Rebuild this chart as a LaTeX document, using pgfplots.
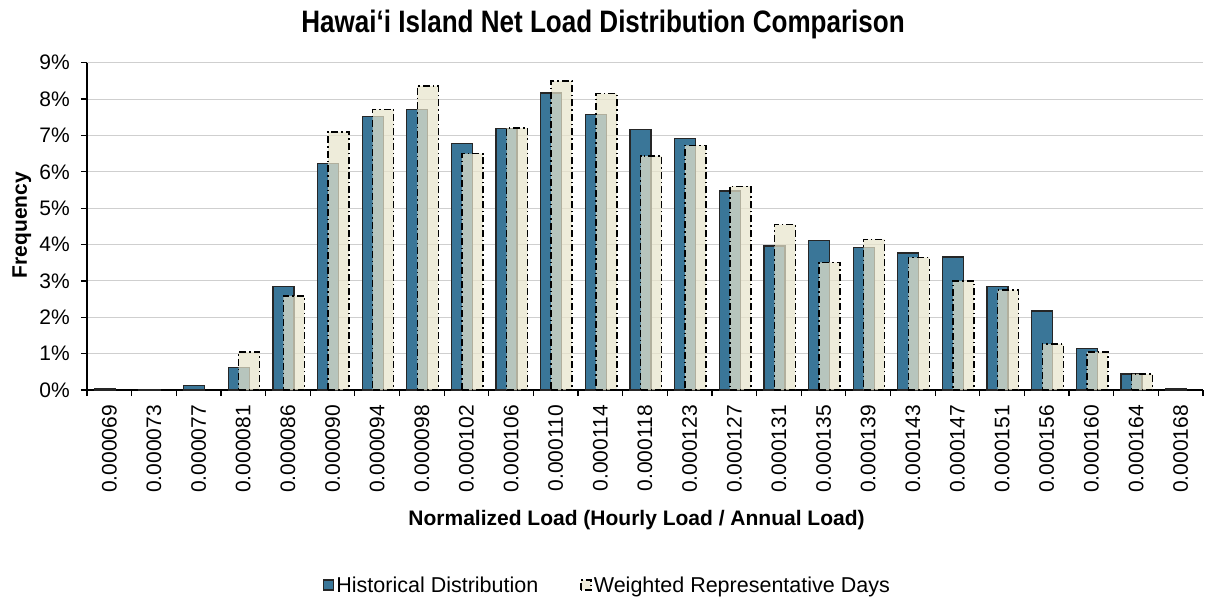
\documentclass[border=0pt]{standalone}
\usepackage{fontspec}
\setmainfont{Liberation Sans}
\newfontfamily\titlefont{Liberation Sans}[FakeStretch=0.84]
\usepackage{pgfplots}
\pgfplotsset{compat=1.18}

\definecolor{histblue}{RGB}{58,118,152}
\definecolor{weightbeige}{RGB}{232,228,204}

\pgfplotsset{
  sqlegend/.style={legend image code/.code={\draw[##1] (0pt,-5pt) rectangle (10pt,5pt);}},
}

\begin{document}
\begin{tikzpicture}
\begin{axis}[
  name=ax,
  scale only axis, width=1116pt, height=327.3pt,
  xmin=-0.5, xmax=24.5, ymin=0, ymax=9,
  axis lines*=left,
  axis line style={-, line width=1.3pt, black},
  tick align=outside, major tick length=6pt,
  tick style={black, line width=1.2pt},
  xtick={-0.5,0.5,...,24.5},
  xticklabels={0.000069,0.000073,0.000077,0.000081,0.000086,0.000090,0.000094,0.000098,0.000102,0.000106,0.000110,0.000114,0.000118,0.000123,0.000127,0.000131,0.000135,0.000139,0.000143,0.000147,0.000151,0.000156,0.000160,0.000164,0.000168,{}},
  xticklabel style={xshift=22.32pt, yshift=-9pt, rotate=90, anchor=east, inner sep=0pt},
  ytick={0,...,9},
  yticklabels={0\%,1\%,2\%,3\%,4\%,5\%,6\%,7\%,8\%,9\%},
  yticklabel style={inner sep=0pt, xshift=-11pt},
  ymajorgrids,
  major grid style={draw=black!19, line width=1pt},
  tick label style={font=\fontsize{21}{25}\selectfont},
  /pgf/number format/assume math mode=true,
  title={Hawai‘i Island Net Load Distribution Comparison},
  title style={at={(axis description cs:0.4624,1.073)}, anchor=base,
    font=\titlefont\bfseries\fontsize{31}{36}\selectfont},
  xlabel={Normalized Load (Hourly Load / Annual Load)},
  xlabel style={at={(axis description cs:0.4924,-0.4125)}, anchor=base,
    font=\bfseries\fontsize{21}{25}\selectfont},
  ylabel={Frequency},
  ylabel style={at={(axis description cs:-0.0538,0.504)}, anchor=base,
    font=\bfseries\fontsize{21}{25}\selectfont},
  legend columns=2,
  legend style={at={(axis description cs:0.4664,-0.596)}, anchor=center,
    draw=none, inner sep=0pt, font=\fontsize{21.5}{25}\selectfont,
    nodes={inner xsep=2pt, inner ysep=0pt},
    /tikz/every even column/.append style={column sep=40pt}},
]

% historical distribution
\addplot[ybar, bar width=21pt, bar shift=-4.5pt, fill=histblue,
  draw=black!85, line width=1.3pt, sqlegend] coordinates {
  (0,0.03) (1,0.02) (2,0.12) (3,0.61) (4,2.84) (5,6.23) (6,7.53) (7,7.71)
  (8,6.78) (9,7.19) (10,8.17) (11,7.58) (12,7.17) (13,6.92) (14,5.47)
  (15,3.96) (16,4.12) (17,3.92) (18,3.77) (19,3.66) (20,2.84) (21,2.17)
  (22,1.15) (23,0.44) (24,0.05)
};
\addlegendentry{Historical Distribution}

% weighted representative days
\addplot[ybar, bar width=21pt, bar shift=6pt, fill=weightbeige, fill opacity=0.72,
  draw=black, line width=1.5pt, dash pattern=on 7pt off 3pt on 1.5pt off 3pt,
  sqlegend] coordinates {
  (3,1.05) (4,2.59) (5,7.10) (6,7.72) (7,8.36) (8,6.50) (9,7.20) (10,8.50)
  (11,8.15) (12,6.43) (13,6.73) (14,5.60) (15,4.55) (16,3.51) (17,4.14)
  (18,3.65) (19,3.00) (20,2.75) (21,1.26) (22,1.05) (23,0.44)
};
\addlegendentry{Weighted Representative Days}

\end{axis}
\pgfresetboundingbox
\path[use as bounding box] (ax.south west) ++(-87pt,-209pt) rectangle ++(1209pt,599pt);
\end{tikzpicture}
\end{document}
